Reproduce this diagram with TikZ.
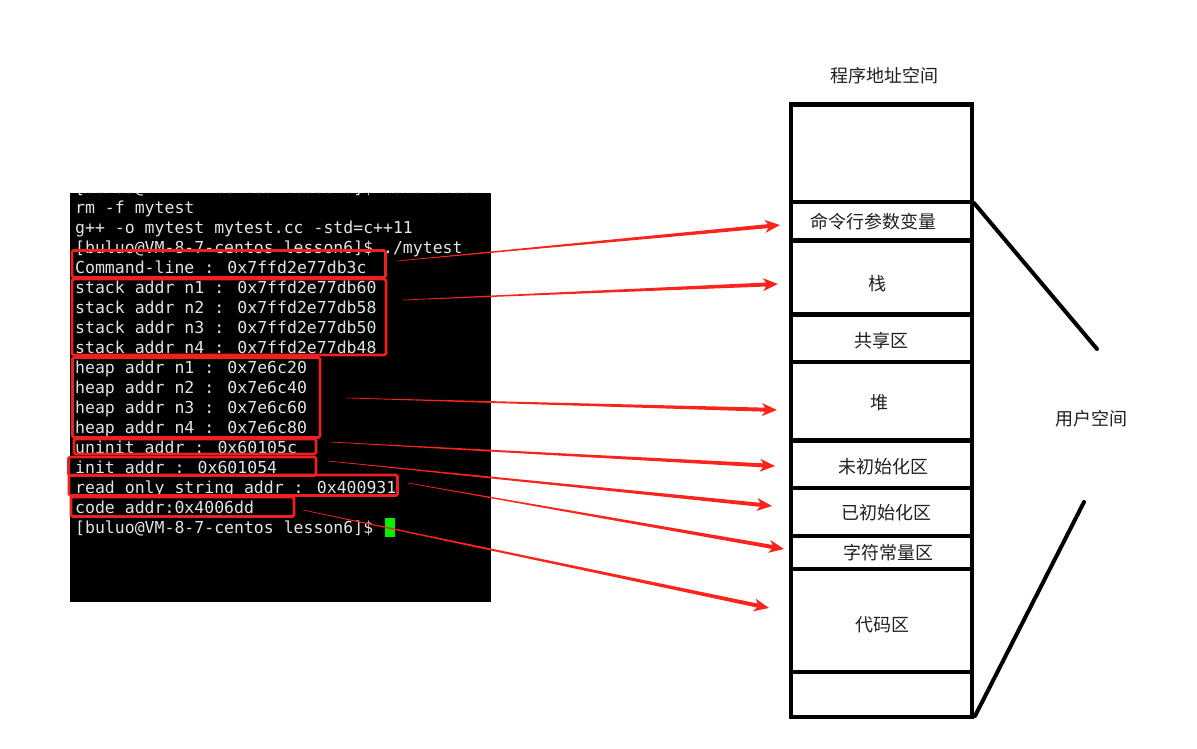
\documentclass[tikz,border=0pt]{standalone}
\usepackage{fontspec}
\newfontfamily\cjk{Noto Sans CJK SC}
\newfontfamily\term{DejaVu Sans Mono}
\usetikzlibrary{calc}
\definecolor{boxred}{RGB}{240,32,32}
\definecolor{arrred}{RGB}{250,36,28}
\definecolor{termfg}{RGB}{228,228,228}
\definecolor{cursorgreen}{RGB}{0,240,0}
\newcommand\taperarrow[2]{%
  \fill[arrred] let \p1=($(#2)-(#1)$), \n1={atan2(\y1,\x1)}, \n2={veclen(\x1,\y1)} in
    [shift={(#1)}, rotate=\n1]
    (0pt,0.3pt) -- (\n2-12pt,2pt) -- (\n2-15pt,6.5pt) -- (\n2,0pt) -- (\n2-15pt,-6.5pt) -- (\n2-12pt,-2pt) -- (0pt,-0.3pt) -- cycle;}
\begin{document}
\begin{tikzpicture}[x=1pt,y=-1pt,
  tline/.style={anchor=base west, inner sep=0pt, text=termfg, font=\term\fontsize{16.5}{20}\selectfont},
  redbox/.style={draw=boxred, line width=2.8pt, rounded corners=1.5pt},
  seg/.style={draw=black, line width=4.5pt},
  diag/.style={draw=black, line width=4pt, line cap=round},
  lbl/.style={font=\cjk\fontsize{18}{20}\selectfont, text=black!88, inner sep=0pt},
]
\useasboundingbox (0,0) rectangle (1197,748);
% terminal
\fill[black] (70,192.5) rectangle (491,601.5);
\begin{scope}
\clip (70,192.5) rectangle (491,601.5);
\node[tline] (l0) at (75,193.5) {[buluo@VM-8-7-centos lesson6]\$ make clean};
\end{scope}
\node[tline] (l1) at (75,213.5) {rm -f mytest};
\node[tline] (l2) at (75,233.5) {g++ -o mytest mytest.cc -std=c++11};
\node[tline] (l3) at (75,253.5) {[buluo@VM-8-7-centos lesson6]\$ ./mytest};
\node[tline] (l4) at (75,273.5) {Command-line : 0x7ffd2e77db3c};
\node[tline] (l5) at (75,293.5) {stack addr n1 : 0x7ffd2e77db60};
\node[tline] (l6) at (75,313.5) {stack addr n2 : 0x7ffd2e77db58};
\node[tline] (l7) at (75,333.5) {stack addr n3 : 0x7ffd2e77db50};
\node[tline] (l8) at (75,353.5) {stack addr n4 : 0x7ffd2e77db48};
\node[tline] (l9) at (75,373.5) {heap addr n1 : 0x7e6c20};
\node[tline] (l10) at (75,393.5) {heap addr n2 : 0x7e6c40};
\node[tline] (l11) at (75,413.5) {heap addr n3 : 0x7e6c60};
\node[tline] (l12) at (75,433.5) {heap addr n4 : 0x7e6c80};
\node[tline] (l13) at (75,453.5) {uninit addr : 0x60105c};
\node[tline] (l14) at (75,473.5) {init addr : 0x601054};
\node[tline] (l15) at (75,493.5) {read only string addr : 0x400931};
\node[tline] (l16) at (75,513.5) {code addr:0x4006dd};
\node[tline] (l17) at (75,533.5) {[buluo@VM-8-7-centos lesson6]\$};
\fill[cursorgreen] (385,518) rectangle (395,537);
% red boxes
\draw[redbox] (72,250.5) rectangle (385.5,277.5);
\draw[redbox] (72,279) rectangle (386,355);
\draw[redbox] (72.5,357.5) rectangle (320,437.5);
\draw[redbox] (74,439) rectangle (316,454);
\draw[redbox] (68.5,457) rectangle (316,475.5);
\draw[redbox] (69,475) rectangle (397.5,495.5);
\draw[redbox] (71,497) rectangle (294,516.5);
% memory column
\node[lbl] (title) at (884,76) {程序地址空间};
\draw[seg] (791,104.5) rectangle (972,717);
\foreach \yy in {202,240.5,314.5,362,440.5,488,536,569,672}
  \draw[seg] (791,\yy) -- (972,\yy);
\node[lbl] (cmd) at (873.5,221.5) {命令行参数变量};
\node[lbl] (stk) at (877,284) {栈};
\node[lbl] (shr) at (881,341) {共享区};
\node[lbl] (hp) at (879,403) {堆};
\node[lbl] (uni) at (883,467) {未初始化区};
\node[lbl] (ini) at (886,513) {已初始化区};
\node[lbl] (str) at (888,553) {字符常量区};
\node[lbl] (cod) at (882,624.5) {代码区};
% user space brace lines
\coordinate (ua) at (974,203);
\coordinate (ub) at (1097,349);
\coordinate (uc) at (975,716);
\coordinate (ud) at (1084,502);
\draw[diag] (ua) -- (ub);
\draw[diag] (uc) -- (ud);
\node[lbl] (usr) at (1091,419) {用户空间};
% arrows
\coordinate (s1) at (397,261); \coordinate (t1) at (780,225);
\coordinate (s2) at (403,300); \coordinate (t2) at (778,284);
\coordinate (s3) at (347,398); \coordinate (t3) at (777,410);
\coordinate (s4) at (330,442); \coordinate (t4) at (775,466);
\coordinate (s5) at (328,461); \coordinate (t5) at (772,506);
\coordinate (s6) at (408,483); \coordinate (t6) at (784,549);
\coordinate (s7) at (303,510); \coordinate (t7) at (769,608);
\taperarrow{s1}{t1}
\taperarrow{s2}{t2}
\taperarrow{s3}{t3}
\taperarrow{s4}{t4}
\taperarrow{s5}{t5}
\taperarrow{s6}{t6}
\taperarrow{s7}{t7}
\end{tikzpicture}
\end{document}
